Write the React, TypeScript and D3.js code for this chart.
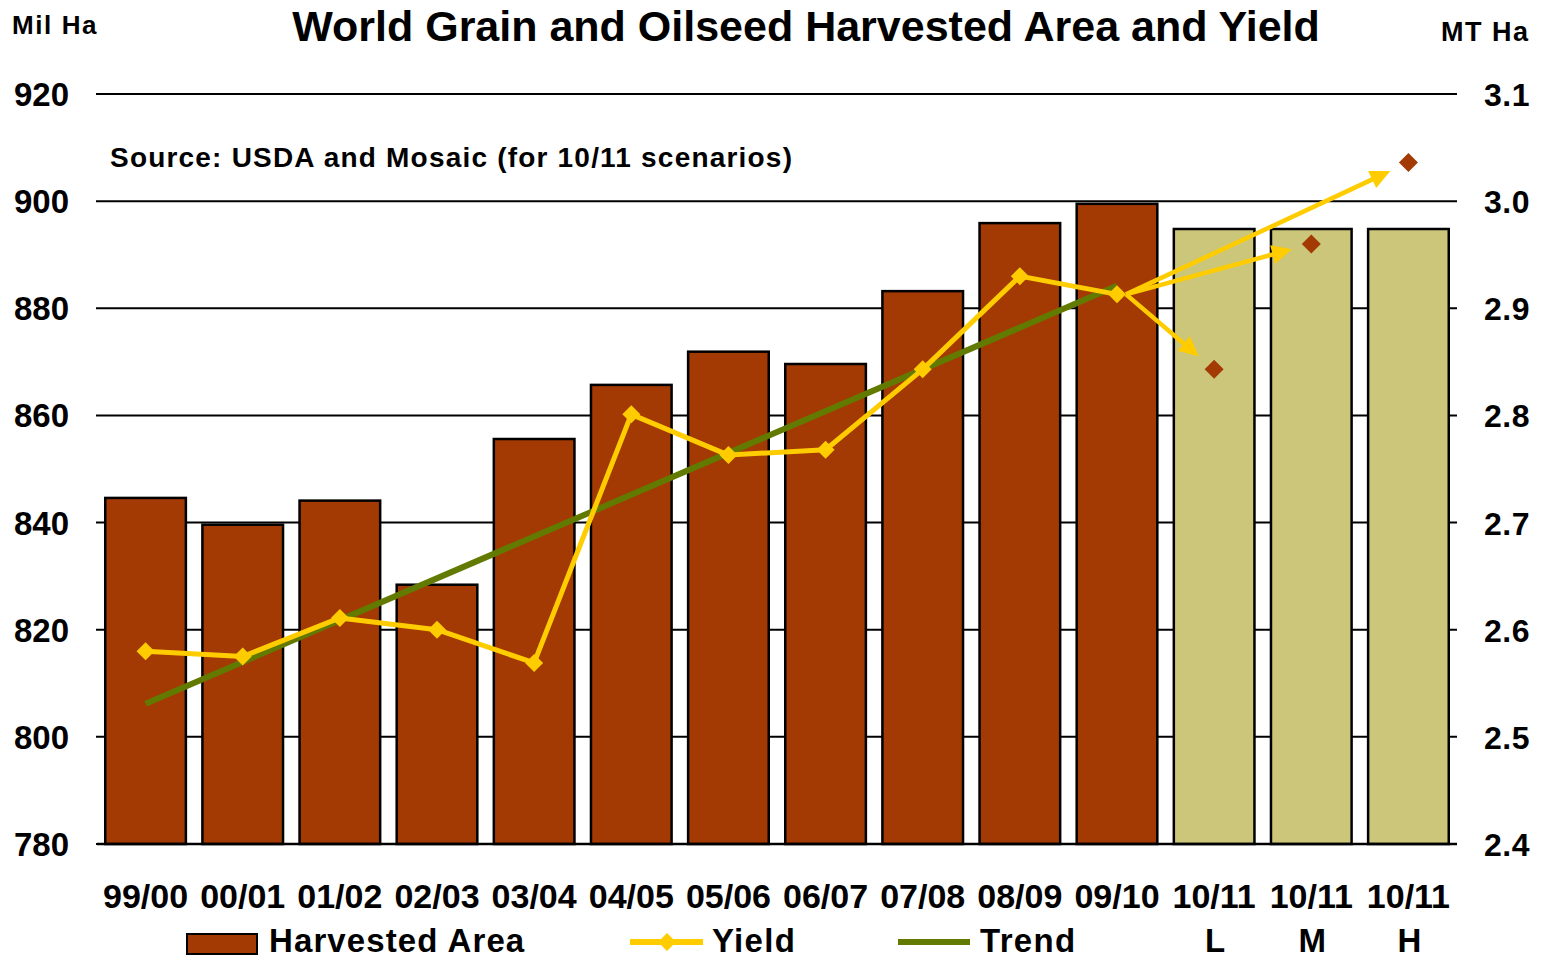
import React from "react";
import * as d3 from "d3";

const categories = ["99/00", "00/01", "01/02", "02/03", "03/04", "04/05", "05/06", "06/07", "07/08", "08/09", "09/10", "10/11", "10/11", "10/11"];
const subLabels = ["", "", "", "", "", "", "", "", "", "", "", "L", "M", "H"];
const harvestedArea = [844.6, 839.6, 844.1, 828.4, 855.6, 865.7, 871.9, 869.6, 883.2, 895.9, 899.5, 894.8, 894.8, 894.8];
const isScenario = [false, false, false, false, false, false, false, false, false, false, false, true, true, true];
const yieldValues = [2.580, 2.575, 2.611, 2.600, 2.569, 2.801, 2.763, 2.768, 2.843, 2.930, 2.913];
const scenarioYield = [2.843, 2.960, 3.036];
const trendStart = 2.531;
const trendEnd = 2.921;
const leftTicks = [780, 800, 820, 840, 860, 880, 900, 920];
const rightTicks = [2.4, 2.5, 2.6, 2.7, 2.8, 2.9, 3.0, 3.1];

const W = 1547, H = 960;
const plotLeft = 97, plotRight = 1457, plotTop = 94, plotBottom = 844;
const BROWN = "#A33A04";
const KHAKI = "#CCC67A";
const YELLOW = "#FFCC00";
const GREEN = "#627A00";
const FONT = "'Liberation Sans', Arial, sans-serif";

export default function App() {
  const idx = categories.map((_, i) => String(i));
  const x = d3.scaleBand<string>().domain(idx).range([plotLeft, plotRight]).paddingInner(0.17).paddingOuter(0.085);
  const yL = d3.scaleLinear().domain([780, 920]).range([plotBottom, plotTop]);
  const yR = d3.scaleLinear().domain([2.4, 3.1]).range([plotBottom, plotTop]);
  const cx = (i: number) => (x(String(i)) as number) + x.bandwidth() / 2;

  const yieldLine = d3.line<number>().x((_, i) => cx(i)).y((d) => yR(d))(yieldValues) as string;
  const lastI = yieldValues.length - 1;
  const trendLine = d3.line<[number, number]>().x((d) => cx(d[0])).y((d) => yR(d[1]))([[0, trendStart], [lastI, trendEnd]]) as string;

  const diamond = (px: number, py: number, r: number) => `M${px},${py - r}L${px + r},${py}L${px},${py + r}L${px - r},${py}Z`;

  const sx = cx(lastI) + 9;
  const sy = yR(yieldValues[lastI]);
  const arrows = scenarioYield.map((v, k) => {
    const tx = cx(lastI + 1 + k), ty = yR(v);
    const dx = tx - sx, dy = ty - sy;
    const len = Math.sqrt(dx * dx + dy * dy);
    const ux = dx / len, uy = dy / len;
    const tipX = tx - ux * 20, tipY = ty - uy * 20;
    const hl = 20, hw = 9.5;
    const bx = tipX - ux * hl, by = tipY - uy * hl;
    const head = `M${tipX},${tipY}L${bx - uy * hw},${by + ux * hw}L${bx + uy * hw},${by - ux * hw}Z`;
    return { x2: bx + ux * 2, y2: by + uy * 2, head, tx, ty };
  });

  return (
    <svg width={W} height={H} style={{ position: "absolute", left: 0, top: 0, background: "#fff" }} fontFamily={FONT} fontWeight="bold">
      {/* gridlines */}
      {leftTicks.map((t) => (
        <line key={"g" + t} x1={plotLeft - 1} x2={plotRight} y1={yL(t)} y2={yL(t)} stroke="#000" strokeWidth={2} />
      ))}
      {/* bars */}
      {harvestedArea.map((v, i) => (
        <rect key={"b" + i} x={x(String(i))} y={yL(v)} width={x.bandwidth()} height={plotBottom - yL(v)}
          fill={isScenario[i] ? KHAKI : BROWN} stroke="#000" strokeWidth={2.5} />
      ))}
      <line x1={plotLeft} x2={plotRight} y1={plotBottom} y2={plotBottom} stroke="#000" strokeWidth={2.5} />
      {/* trend */}
      <path d={trendLine} fill="none" stroke={GREEN} strokeWidth={6} />
      {/* yield */}
      <path d={yieldLine} fill="none" stroke={YELLOW} strokeWidth={5} strokeLinejoin="round" />
      {yieldValues.map((v, i) => (
        <path key={"d" + i} d={diamond(cx(i), yR(v), 9)} fill={YELLOW} />
      ))}
      {/* arrows */}
      {arrows.map((a, k) => (
        <g key={"a" + k}>
          <line x1={sx} y1={sy} x2={a.x2} y2={a.y2} stroke={YELLOW} strokeWidth={4.5} />
          <path d={a.head} fill={YELLOW} />
          <path d={diamond(a.tx, a.ty, 9.5)} fill={BROWN} />
        </g>
      ))}
      {/* left ticks */}
      {leftTicks.map((t) => (
        <text key={"l" + t} x={69} y={yL(t) + 12} textAnchor="end" fontSize={33}>{t}</text>
      ))}
      {rightTicks.map((t) => (
        <text key={"r" + t} x={1484} y={yR(t) + 12} textAnchor="start" fontSize={32} letterSpacing={0.5}>{t.toFixed(1)}</text>
      ))}
      {/* category labels */}
      {categories.map((c, i) => (
        <text key={"c" + i} x={cx(i)} y={908} textAnchor="middle" fontSize={34}>{c}</text>
      ))}
      {subLabels.map((c, i) => c ? (
        <text key={"s" + i} x={cx(i) + 1} y={952} textAnchor="middle" fontSize={33}>{c}</text>
      ) : null)}
      {/* titles */}
      <text x={806} y={41} textAnchor="middle" fontSize={43}>World Grain and Oilseed Harvested Area and Yield</text>
      <text x={12} y={34} fontSize={26} letterSpacing={1.6}>Mil Ha</text>
      <text x={1441} y={41} fontSize={27} letterSpacing={1.5}>MT Ha</text>
      <text x={110} y={167} fontSize={28} letterSpacing={1.2}>Source: USDA and Mosaic (for 10/11 scenarios)</text>
      {/* legend */}
      <rect x={187} y={934} width={70} height={20} fill={BROWN} stroke="#000" strokeWidth={2} />
      <text x={269} y={952} fontSize={33} letterSpacing={1.1}>Harvested Area</text>
      <line x1={630} x2={703} y1={942} y2={942} stroke={YELLOW} strokeWidth={6} />
      <path d={diamond(667, 942, 9)} fill={YELLOW} />
      <text x={712} y={952} fontSize={33} letterSpacing={1.3}>Yield</text>
      <line x1={898} x2={970} y1={942} y2={942} stroke={GREEN} strokeWidth={6} />
      <text x={980} y={952} fontSize={33} letterSpacing={1.3}>Trend</text>
    </svg>
  );
}
